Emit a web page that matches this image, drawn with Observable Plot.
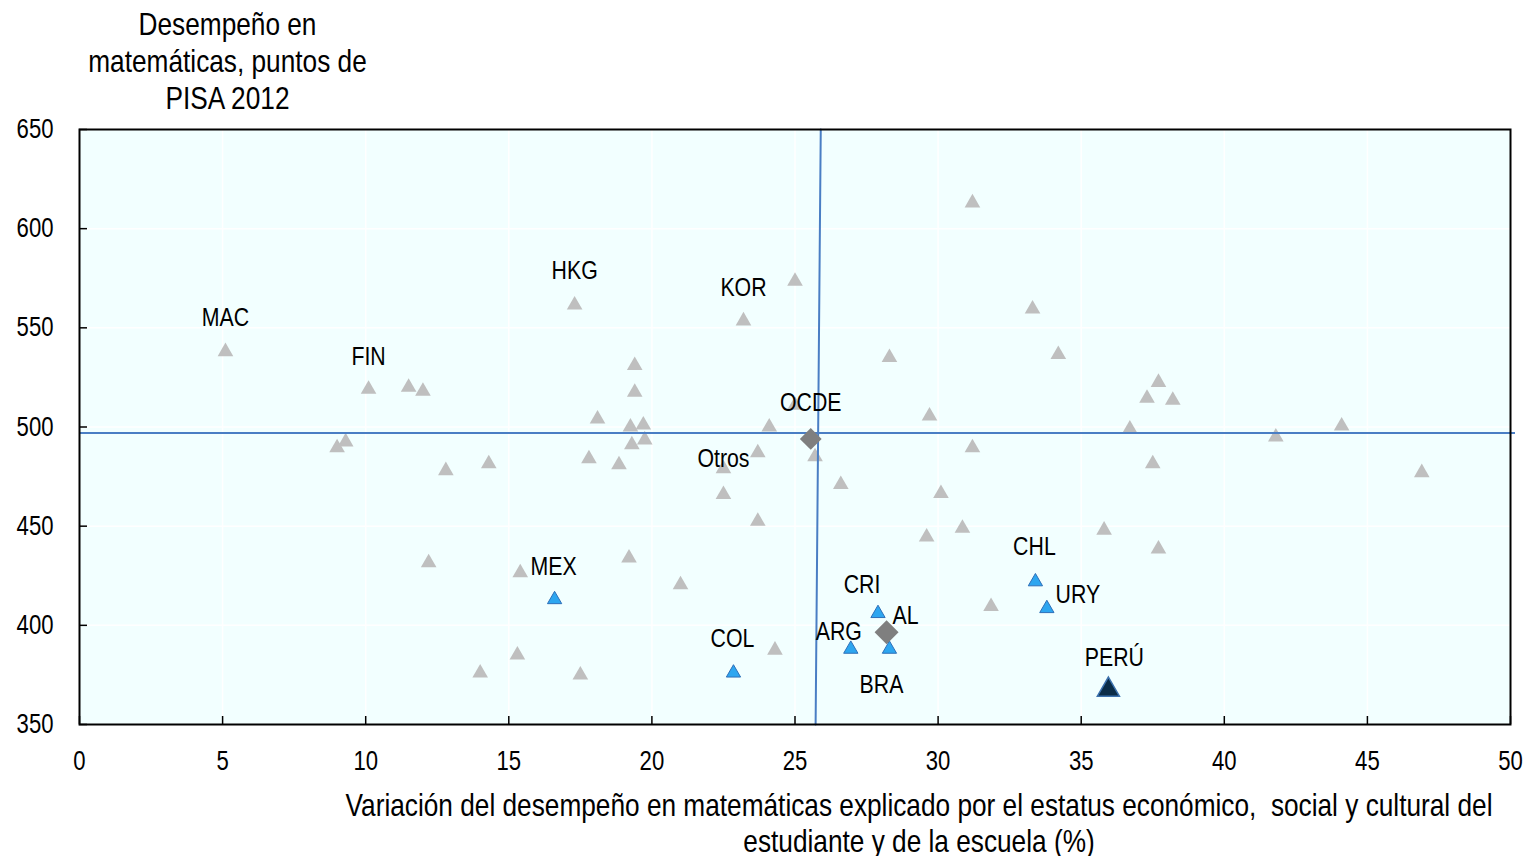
<!DOCTYPE html>
<html><head><meta charset="utf-8">
<script src="https://cdn.jsdelivr.net/npm/d3@7"></script>
<script src="https://cdn.jsdelivr.net/npm/@observablehq/plot@0.6"></script>
<style>html,body{margin:0;padding:0;background:#fff;}</style>
</head><body><div id="chart"></div>
<script>
// ---------- data ----------
const xTicks = [0, 5, 10, 15, 20, 25, 30, 35, 40, 45, 50];
const yTicks = [350, 400, 450, 500, 550, 600, 650];

// labelled grey countries
const greyLabelNames = ["MAC", "FIN", "HKG", "KOR", "Otros"];
const greyLabelX = [5.1, 10.1, 17.3, 23.2, 22.5];
const greyLabelY = [538, 519, 561.5, 553.5, 479];

// other (unlabelled) countries
const otherX = [11.5, 12.0, 9.3, 9.0, 12.8, 14.3, 12.2, 15.4, 15.3, 14.0, 17.5,
  19.4, 19.4, 18.1, 19.25, 19.7, 19.75, 19.3, 17.8, 18.85, 19.2, 21.0,
  25.0, 24.1, 23.7, 22.5, 23.7, 24.3, 25.0, 25.7, 26.6, 28.3, 29.7, 31.2, 31.2,
  30.1, 29.6, 30.85, 31.85, 33.3, 34.2, 35.8, 37.7, 37.7, 37.3, 38.2, 36.7, 37.5,
  41.8, 44.1, 46.9];
const otherY = [520, 518, 492.5, 489.5, 478, 481.5, 431.5, 426.5, 385, 376, 375,
  531, 517.5, 504, 500, 501, 493.5, 491, 484, 481, 434, 420.5,
  573.5, 500, 487, 466, 452.5, 387.5, 511, 485, 471, 535, 505.5, 489.5, 613,
  466.5, 444.5, 449, 409.5, 559.5, 536.5, 448, 438.5, 522.5, 514.5, 513.5, 499, 481.5,
  495, 500.5, 477];

// Latin American countries
const latamNames = ["MEX", "COL", "CRI", "ARG", "BRA", "CHL", "URY"];
const latamX = [16.6, 22.85, 27.9, 26.95, 28.3, 33.4, 33.8];
const latamY = [413, 376, 406, 388, 388, 422, 408.5];

// Peru
const peruNames = ["PERÚ"];
const peruX = [35.95];
const peruY = [367.5];

// averages
const avgNames = ["OCDE", "AL"];
const avgX = [25.55, 28.2];
const avgY = [494, 396.5];

// OECD reference lines
const oecdLineX = [25.9, 25.72];
const oecdLineY = [650, 350];
const oecdMeanScore = [497];

const yTitle = "Desempeño en\nmatemáticas, puntos de\nPISA 2012";
const xTitle = "Variación del desempeño en matemáticas explicado por el estatus económico,  social y cultural del\nestudiante y de la escuela (%)";

// ---------- tables ----------
const zip = (n, xs, ys) => xs.map((x, i) => ({name: n ? n[i] : "", x, y: ys[i]}));
const greyLab = zip(greyLabelNames, greyLabelX, greyLabelY);
const others = zip(null, otherX, otherY);
const latam = zip(latamNames, latamX, latamY);
const peru = zip(peruNames, peruX, peruY);
const avgs = zip(avgNames, avgX, avgY);
const oecdLine = oecdLineX.map((x, i) => ({x, y: oecdLineY[i]}));
const allLabelled = [...greyLab, ...latam, ...peru, ...avgs];

// ---------- layout ----------
const W = 1527, H = 856, mL = 79, mR = 17, mT = 129, mB = 132;
const plotW = W - mL - mR, plotH = H - mT - mB;
const FONT = "'Liberation Sans Narrow', 'Arial Narrow', 'Liberation Sans', Arial, sans-serif";
const BG = "#F2FFFF";
const NARROW = 0.82; // horizontal condensation emulating Arial Narrow

const label = (name, dx, dy) => Plot.text(allLabelled.filter(d => d.name === name),
  {x: "x", y: "y", text: "name", dx, dy, fontSize: 26, fill: "#000", textAnchor: "middle"});

const chart = Plot.plot({
  width: W, height: H,
  marginLeft: mL, marginRight: mR, marginTop: mT, marginBottom: mB,
  style: {fontFamily: FONT, fontSize: "26px", color: "#000", background: "#fff", overflow: "visible"},
  x: {domain: [0, 50], axis: null, label: null},
  y: {domain: [350, 650], axis: null, label: null},
  marks: [
    Plot.frame({fill: BG}),
    Plot.gridX(xTicks, {stroke: "#fff", strokeOpacity: 1, strokeWidth: 1.5}),
    Plot.gridY(yTicks, {stroke: "#fff", strokeOpacity: 1, strokeWidth: 1.5}),
    Plot.tickX(xTicks, {x: d => d, insetTop: plotH - 8, stroke: "#000", strokeWidth: 1.5}),
    Plot.tickY(yTicks, {y: d => d, insetRight: plotW - 8, stroke: "#000", strokeWidth: 1.5}),
    Plot.axisX(xTicks, {tickSize: 0, tickPadding: 26, fontSize: 27}),
    Plot.axisY(yTicks, {tickSize: 0, tickPadding: 26, fontSize: 27}),
    // grey markers
    Plot.dot(others, {x: "x", y: "y", symbol: "triangle", r: 5.8, fill: "#BFBFBF", stroke: "none"}),
    Plot.dot(greyLab, {x: "x", y: "y", symbol: "triangle", r: 5.8, fill: "#BFBFBF", stroke: "none"}),
    // reference lines
    Plot.line(oecdLine, {x: "x", y: "y", stroke: "#4A7EC4", strokeWidth: 2}),
    Plot.ruleY(oecdMeanScore, {stroke: "#4A7EC4", strokeWidth: 2, insetRight: -5}),
    // Latin America
    Plot.dot(latam, {x: "x", y: "y", symbol: "triangle", r: 5.3, fill: "#2DA6F0", stroke: "#2E6FB8", strokeWidth: 1}),
    Plot.dot(peru, {x: "x", y: "y", symbol: "triangle", r: 8.2, fill: "#0B2D48", stroke: "#3D72AE", strokeWidth: 1.5}),
    // averages
    Plot.dot(avgs.filter(d => d.name === "OCDE"), {x: "x", y: "y", symbol: d3.symbolDiamond2, r: 9.8, fill: "#7F7F7F", stroke: "none"}),
    Plot.dot(avgs.filter(d => d.name === "AL"), {x: "x", y: "y", symbol: d3.symbolDiamond2, r: 10.8, fill: "#7F7F7F", stroke: "none"}),
    // labels
    label("MAC", 0, -34),
    label("FIN", 0, -33),
    label("HKG", 0, -34),
    label("KOR", 0, -33),
    label("Otros", 0, -10),
    label("OCDE", 0, -36),
    label("MEX", -1, -33),
    label("COL", -1, -34),
    label("CRI", -16, -29),
    label("AL", 19, -17),
    label("ARG", -12, -17),
    label("BRA", -8, 36),
    label("CHL", -1, -35),
    label("URY", 31, -14),
    label("PERÚ", 6, -32),
    // frame
    Plot.frame({stroke: "#000", strokeWidth: 2}),
    // titles
    Plot.text([yTitle], {text: d => d, frameAnchor: "top-left", dx: 148, dy: -69,
      textAnchor: "middle", lineAnchor: "middle", lineHeight: 1.16, fontSize: 32, fill: "#000"}),
    Plot.text([xTitle], {text: d => d, frameAnchor: "bottom", dx: 124, dy: 98,
      textAnchor: "middle", lineAnchor: "middle", lineHeight: 1.125, fontSize: 32, fill: "#000"})
  ]
});

// emulate a narrow typeface by condensing every text horizontally around its anchor
chart.querySelectorAll("text").forEach(t => {
  let tr = t.getAttribute("transform");
  if (!tr) {
    const x = +(t.getAttribute("x") || 0), y = +(t.getAttribute("y") || 0);
    t.removeAttribute("x"); t.removeAttribute("y");
    tr = `translate(${x},${y})`;
  }
  t.setAttribute("transform", `${tr} scale(${NARROW},1)`);
});
document.getElementById("chart").appendChild(chart);
</script>
</body></html>
